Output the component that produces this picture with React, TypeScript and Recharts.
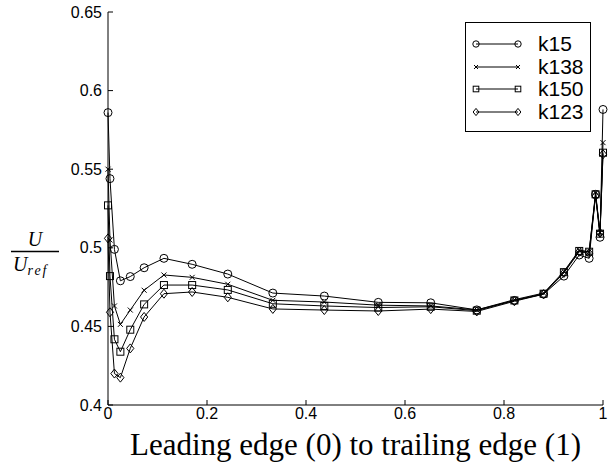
import React from "react";
import { LineChart, Line, XAxis, YAxis } from "recharts";

// chord position, leading edge (0) to trailing edge (1)
const positions = [
  0, 0.004, 0.013, 0.025, 0.045, 0.073, 0.113, 0.17, 0.242, 0.333, 0.437,
  0.546, 0.652, 0.745, 0.821, 0.88, 0.921, 0.952, 0.972, 0.985, 0.994, 1.0,
];

const k15 = [
  0.586, 0.544, 0.499, 0.479, 0.4817, 0.4873, 0.4933, 0.4895, 0.4833, 0.4712,
  0.4693, 0.4653, 0.465, 0.4605, 0.4665, 0.4705, 0.482, 0.4954, 0.4933, 0.534,
  0.5067, 0.588,
];
const k138 = [
  0.55, 0.505, 0.463, 0.4513, 0.4604, 0.473, 0.4827, 0.4812, 0.4768, 0.4666,
  0.4655, 0.4635, 0.463, 0.4605, 0.467, 0.4712, 0.485, 0.4985, 0.4975, 0.535,
  0.5095, 0.5669,
];
const k150 = [
  0.527, 0.482, 0.4418, 0.4339, 0.4479, 0.464, 0.4763, 0.4763, 0.4732, 0.4644,
  0.463, 0.462, 0.4625, 0.46, 0.4665, 0.4708, 0.4845, 0.498, 0.4975, 0.534,
  0.509, 0.5605,
];
const k123 = [
  0.506, 0.459, 0.42, 0.4174, 0.436, 0.456, 0.4708, 0.4719, 0.4685, 0.4611,
  0.4604, 0.4598, 0.461, 0.4595, 0.466, 0.4705, 0.484, 0.4975, 0.4965, 0.533,
  0.5095, 0.5595,
];

const xTicks = [0, 0.2, 0.4, 0.6, 0.8, 1];
const yTicks = [0.4, 0.45, 0.5, 0.55, 0.6, 0.65];

const seriesNames = ["k15", "k138", "k150", "k123"];
const seriesValues = [k15, k138, k150, k123];
const seriesMarkers = ["circle", "cross", "square", "diamond"];

const data = positions.map((x, i) => {
  const row: { [key: string]: number } = { x };
  seriesNames.forEach((name, s) => {
    row[name] = seriesValues[s][i];
  });
  return row;
});

const tickFont = "'Liberation Sans', Arial, sans-serif";
const serifFont = "'Liberation Serif', 'Times New Roman', serif";

function Marker({ kind, cx, cy, size = 1 }: { kind: string; cx: number; cy: number; size?: number }) {
  if (cx == null || cy == null) return null;
  const s = size;
  if (kind === "circle") {
    return <circle cx={cx} cy={cy} r={4 * s} fill="none" stroke="#000" strokeWidth={1} />;
  }
  if (kind === "cross") {
    const d = 2.5 * s;
    return (
      <path
        d={`M${cx - d},${cy - d}L${cx + d},${cy + d}M${cx - d},${cy + d}L${cx + d},${cy - d}`}
        stroke="#000"
        strokeWidth={1}
        fill="none"
      />
    );
  }
  if (kind === "square") {
    const d = 3.5 * s;
    return <rect x={cx - d} y={cy - d} width={2 * d} height={2 * d} fill="none" stroke="#000" strokeWidth={1} />;
  }
  const d = 4.5 * s;
  return (
    <path
      d={`M${cx},${cy - d}L${cx + d * 0.8},${cy}L${cx},${cy + d}L${cx - d * 0.8},${cy}Z`}
      fill="none"
      stroke="#000"
      strokeWidth={1}
    />
  );
}

// boxed legend in the upper right, like the original figure
const LegendBox = () => (
  <div
    style={{
      position: "absolute",
      left: 465,
      top: 22,
      border: "1px solid #000",
      background: "#fff",
      width: 126,
      height: 110,
      boxSizing: "border-box",
      paddingTop: 10,
    }}
  >
    {seriesNames.map((name, i) => (
      <div key={name} style={{ display: "flex", alignItems: "center", height: 22.5 }}>
        <svg width={72} height={22}>
          <line x1={10} y1={11} x2={52} y2={11} stroke="#000" strokeWidth={1} />
          <Marker kind={seriesMarkers[i]} cx={10} cy={11} size={0.8} />
          <Marker kind={seriesMarkers[i]} cx={52} cy={11} size={0.8} />
        </svg>
        <span style={{ fontFamily: tickFont, fontSize: 21, lineHeight: "22px", color: "#000" }}>{name}</span>
      </div>
    ))}
  </div>
);

const YLabel = (props: any) => {
  const vb = props.viewBox || { x: 0, y: 0, height: 0 };
  const cy = vb.y + vb.height / 2 + 43;
  return (
    <g>
      <text x={35} y={cy - 6} textAnchor="middle" fontFamily={serifFont} fontStyle="italic" fontSize={20} fill="#000">
        U
      </text>
      <line x1={11} y1={cy} x2={59} y2={cy} stroke="#000" strokeWidth={1.5} />
      <text x={13} y={cy + 19} fontFamily={serifFont} fontStyle="italic" fontSize={20} fill="#000">
        U
        <tspan fontSize={14} dy={4} letterSpacing={2}>ref</tspan>
      </text>
    </g>
  );
};

export default function App() {
  return (
    <div style={{ position: "absolute", left: 0, top: 0, width: 609, height: 471, background: "#fff" }}>
      <LineChart
        width={609}
        height={471}
        data={data}
        margin={{ top: 12, right: 6, left: 0, bottom: 0 }}
      >
        <XAxis
          dataKey="x"
          type="number"
          domain={[0, 1]}
          ticks={xTicks}
          tickFormatter={(v) => `${v}`}
          height={66}
          stroke="#000"
          tickSize={-5}
          tickMargin={8}
          tick={{ fill: "#000", fontSize: 16, fontFamily: tickFont }}
          label={{
            value: "Leading edge (0) to trailing edge (1)",
            position: "insideBottom",
            offset: 16,
            style: { fill: "#000", fontSize: 31, fontFamily: serifFont },
          }}
        />
        <YAxis
          type="number"
          domain={[0.4, 0.65]}
          ticks={yTicks}
          tickFormatter={(v) => `${v}`}
          width={108}
          stroke="#000"
          tickSize={-5}
          tickMargin={11}
          tick={{ fill: "#000", fontSize: 16, fontFamily: tickFont }}
          label={{ content: <YLabel /> }}
        />
        {seriesNames.map((name, i) => (
          <Line
            key={name}
            dataKey={name}
            name={name}
            type="linear"
            stroke="#000"
            strokeWidth={1}
            isAnimationActive={false}
            dot={(p: any) => <Marker key={`${name}-${p.index}`} kind={seriesMarkers[i]} cx={p.cx} cy={p.cy} />}
            activeDot={false}
          />
        ))}
      </LineChart>
      <LegendBox />
    </div>
  );
}
